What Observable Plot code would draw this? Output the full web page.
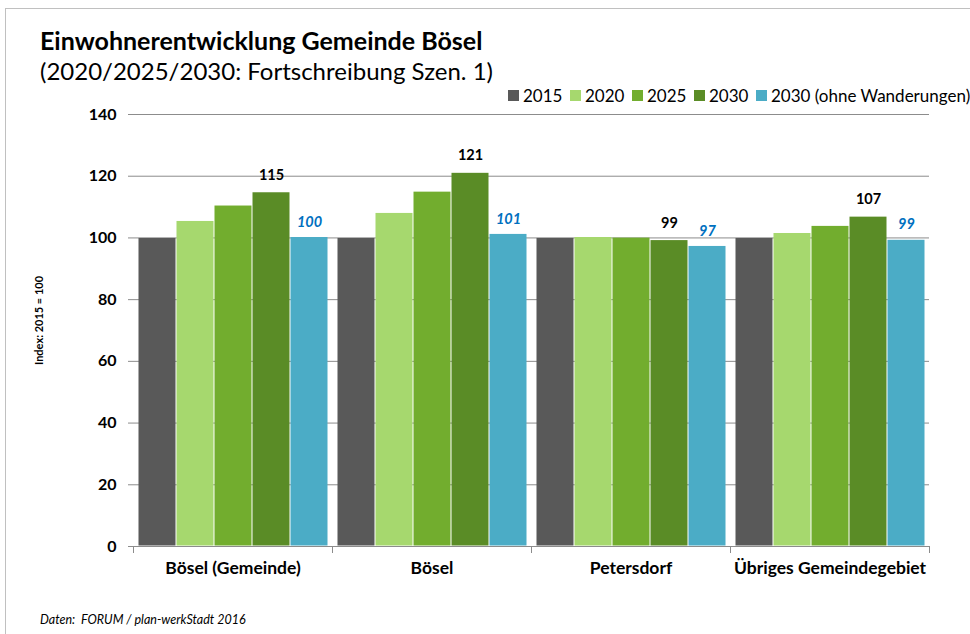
<!DOCTYPE html>
<html>
<head>
<meta charset="utf-8">
<script src="https://cdn.jsdelivr.net/npm/d3@7"></script>
<script src="https://cdn.jsdelivr.net/npm/@observablehq/plot@0.6"></script>
<style>
  html, body { margin: 0; padding: 0; background: #fff; }
  #wrap { position: relative; width: 970px; height: 634px; overflow: hidden; font-family: Lato, "Open Sans", sans-serif; }
  #border { position: absolute; left: 5px; top: 8px; width: 990px; height: 700px; border: 1px solid #c0c0c0; box-sizing: border-box; }
  #chart { position: absolute; left: 0; top: 0; }
  .title { position: absolute; left: 40px; top: 25px; font-size: 25px; font-weight: bold; color: #000; white-space: nowrap; }
  .subtitle { position: absolute; left: 40px; top: 56px; font-size: 24px; color: #000; white-space: nowrap; }
  .legend { position: absolute; left: 508px; top: 85px; font-size: 17px; white-space: nowrap; display: flex; }
  .legend span.item { display: inline-flex; align-items: center; width: 62px; }
  .legend span.item:last-child { width: auto; }
  .legend span.sw { display: inline-block; width: 11px; height: 11px; margin-right: 4px; flex: none; }
  .caption { position: absolute; left: 40px; top: 612px; font-size: 12.5px; font-style: italic; color: #000; white-space: nowrap; }
</style>
</head>
<body>
<div id="wrap">
  <div id="border"></div>
  <div id="chart"></div>
  <div class="title">Einwohnerentwicklung Gemeinde Bösel</div>
  <div class="subtitle">(2020/2025/2030: Fortschreibung Szen. 1)</div>
  <div class="legend" id="legend"></div>
  <div class="caption">Daten:&nbsp; FORUM / plan-werkStadt 2016</div>
</div>
<script>
const regions = ["Bösel (Gemeinde)", "Bösel", "Petersdorf", "Übriges Gemeindegebiet"];
const series = ["2015", "2020", "2025", "2030", "2030 (ohne Wanderungen)"];
const v2015 = [100, 100, 100, 100];
const v2020 = [105.5, 108.1, 100.3, 101.6];
const v2025 = [110.5, 115.0, 100.1, 103.9];
const v2030 = [114.8, 121.1, 99.3, 106.9];
const vOhne = [100.3, 101.3, 97.4, 99.4];
const yTicks = [0, 20, 40, 60, 80, 100, 120, 140];
const colors = ["#595959", "#a6d86e", "#72ad2e", "#5a8c26", "#4bacc6"];

const valuesBySeries = [v2015, v2020, v2025, v2030, vOhne];
const data = [];
regions.forEach((r, i) => series.forEach((s, j) => data.push({region: r, series: s, value: valuesBySeries[j][i]})));
const lab2030 = regions.map((r, i) => ({region: r, series: series[3], value: v2030[i]}));
const labOhne = regions.map((r, i) => ({region: r, series: series[4], value: vOhne[i]}));

const grey = "#8c8c8c";
const font = "Lato, 'Open Sans', sans-serif";

const chart = Plot.plot({
  width: 970,
  height: 634,
  marginTop: 114,
  marginBottom: 88,
  marginLeft: 131,
  marginRight: 40,
  style: {fontFamily: font, background: "transparent"},
  fx: {domain: regions, padding: 0, axis: null},
  x: {domain: series, paddingInner: 0, paddingOuter: 0.115, axis: null},
  y: {domain: [0, 140], axis: null},
  color: {domain: series, range: colors},
  marks: [
    Plot.ruleY(yTicks.filter(d => d > 0), {stroke: grey, strokeWidth: 1}),
    Plot.barY(data, {fx: "region", x: "series", y: "value", fill: "series", inset: 0.5}),
    Plot.ruleY([0], {stroke: grey, strokeWidth: 1}),
    Plot.frame({anchor: "left", stroke: grey, insetTop: 432, insetBottom: -6}),
    Plot.frame({anchor: "right", stroke: grey, insetTop: 432, insetBottom: -6}),
    Plot.axisY({ticks: yTicks, tickSize: 5, tickPadding: 12, tickFormat: d => d, fontSize: 16, fontWeight: "bold", stroke: grey, fill: "#000", line: true, label: null}),
    Plot.text(regions, {fx: d => d, text: d => d, frameAnchor: "bottom", dy: 27, fontSize: 17.5, fontWeight: "bold", fill: "#000"}),
    Plot.text(lab2030, {fx: "region", x: "series", y: "value", text: d => d3.format(".0f")(d.value), dy: -17, fontSize: 14.5, fontWeight: "bold", fill: "#000"}),
    Plot.text(labOhne, {fx: "region", x: "series", y: "value", text: d => d3.format(".0f")(d.value), dy: -15, fontSize: 14.5, fontWeight: "bold", fontStyle: "italic", fill: "#0070c0"}),
    Plot.text(["Index: 2015 = 100"], {fx: () => regions[0], text: d => d, frameAnchor: "left", textAnchor: "middle", dx: -94, dy: -10, rotate: -90, fontSize: 11, fontWeight: "bold", fill: "#000"})
  ]
});
document.getElementById("chart").appendChild(chart);

const legend = document.getElementById("legend");
series.forEach((s, i) => {
  const item = document.createElement("span");
  item.className = "item";
  const sw = document.createElement("span");
  sw.className = "sw";
  sw.style.background = colors[i];
  item.appendChild(sw);
  item.appendChild(document.createTextNode(s));
  legend.appendChild(item);
});
</script>
</body>
</html>
